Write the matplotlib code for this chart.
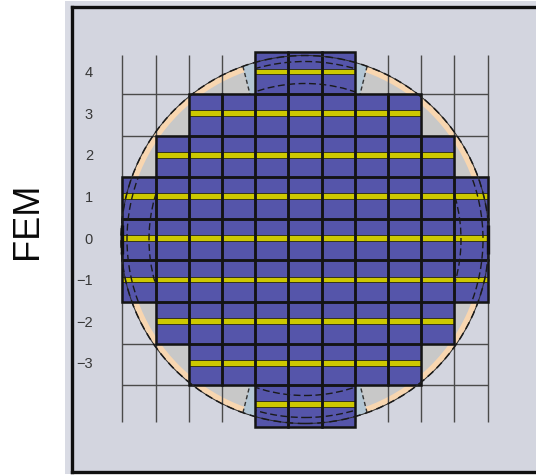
import numpy as np
import matplotlib
matplotlib.use("Agg")
import matplotlib.pyplot as plt
from matplotlib.patches import Rectangle, Ellipse, Polygon

# wafer map: die rows (top to bottom) and the first / last die column in each row
row_y = [4, 3, 2, 1, 0, -1, -2, -3, -4]
row_first = [-1, -3, -4, -5, -5, -5, -4, -3, -1]
row_last = [1, 3, 4, 5, 5, 5, 4, 3, 1]
tick_rows = [4, 3, 2, 1, 0, -1, -2, -3]
n_cols = 11
n_rows = 9

# pixel geometry of the map
W, H = 536, 476
CX, CY = 305.0, 239.5        # wafer centre (px)
DW, DH = 33.2, 41.6          # die pitch (px)
R_WAFER = 184.0
R_RING = 178.0
R_EXCL = [178.0, 156.0]

BG = "#d3d5df"
BLUE = "#5555aa"
YELLOW = "#cdc800"
GRAY = "#c8c8c8"
PEACH = "#f8d6b0"
WEDGE = "#b3c6d4"

fig = plt.figure(figsize=(W / 100, H / 100), dpi=100)
fig.patch.set_facecolor("white")

# light backing strip behind the frame
fig.patches.append(Rectangle((65 / W, 1 - 474 / H), 480 / W, 473 / H,
                             transform=fig.transFigure, fc="#d9dbe4", ec="none", zorder=-5))

left, right, top, bot = 71.5, 538.5, 6.5, 471.5
ax = fig.add_axes([left / W, 1 - bot / H, (right - left) / W, (bot - top) / H])
ax.set_zorder(1)
ax.set_facecolor(BG)
ax.set_xlim((left - CX) / DW, (right - CX) / DW)
ax.set_ylim((CY - bot) / DH, (CY - top) / DH)
ax.set_xticks([])
ax.set_yticks([])
for s in ax.spines.values():
    s.set_linewidth(2.4)
    s.set_color("#101010")
ax.spines["right"].set_visible(False)

rx = lambda r: r / DW
ry = lambda r: r / DH

# wafer disc: peach rim, gray inside
ax.add_patch(Ellipse((0, 0), 2 * rx(R_WAFER), 2 * ry(R_WAFER), fc=PEACH, ec="none", zorder=1))
ax.add_patch(Ellipse((0, 0), 2 * rx(R_RING), 2 * ry(R_RING), fc=GRAY, ec="none", zorder=1.1))

# grid of die positions
col_edges = np.arange(n_cols + 1) - n_cols / 2
row_edges = np.arange(1, n_rows) - n_rows / 2
ax.vlines(col_edges, (CY - 422) / DH, (CY - 55) / DH, color="#4a4a4a", lw=1.0, zorder=2)
ax.hlines(row_edges, col_edges[0], col_edges[-1], color="#4a4a4a", lw=1.0, zorder=2)


def yc(x):
    # y of the wafer edge above x (data units)
    return ry(R_WAFER) * np.sqrt(1 - (x / rx(R_WAFER)) ** 2)


# small wedges beside the top and bottom die rows
for sx in (-1, 1):
    for sy in (-1, 1):
        pts = [(sx * 1.5, sy * 3.5), (sx * 1.5, sy * yc(1.5)),
               (sx * 1.87, sy * yc(1.87)), (sx * 1.66, sy * 3.5)]
        ax.add_patch(Polygon(pts, closed=True, fc=WEDGE, ec="none", zorder=2.6))
        ax.plot([sx * 1.87, sx * 1.66], [sy * yc(1.87), sy * 3.5], color="#333",
                lw=1.0, ls=(0, (3, 2)), zorder=2.7)

# dies
for y, c0, c1 in zip(row_y, row_first, row_last):
    for c in range(c0, c1 + 1):
        ax.add_patch(Rectangle((c - 0.5, y - 0.5), 1, 1, fc=BLUE, ec="none", zorder=3))
        ax.add_patch(Rectangle((c - 0.5, y - 0.03), 1, 0.14, fc=YELLOW, ec="#34341a",
                               lw=0.7, zorder=3.1))
        ax.add_patch(Rectangle((c - 0.5, y - 0.5), 1, 1, fill=False, ec="#141414",
                               lw=1.8, zorder=3.2))

# wafer edge
ax.add_patch(Ellipse((0, 0), 2 * rx(R_WAFER), 2 * ry(R_WAFER), fill=False,
                     ec="#2a2a2a", lw=0.7, zorder=4))
ax.add_patch(Ellipse((0, 0), 2 * rx(R_WAFER), 2 * ry(R_WAFER), fill=False,
                     ec="#1a1a1a", lw=1.1, ls=(0, (5, 3)), zorder=4))

# edge-exclusion arcs, shown only on the edge dies
clip_boxes = [(-1.5, 3.5, 3, 1), (-1.5, -4.5, 3, 1), (-5.5, -1.5, 1, 3), (4.5, -1.5, 1, 3)]
for bx, by, bw, bh in clip_boxes:
    clip = Rectangle((bx, by), bw, bh, transform=ax.transData)
    for r in R_EXCL:
        e = Ellipse((0, 0), 2 * rx(r), 2 * ry(r), fill=False, ec="#1a1a1a",
                    lw=1.0, ls=(0, (5, 2.5)), zorder=4)
        ax.add_patch(e)
        e.set_clip_path(clip)

# flats on the left and right
ax.vlines([col_edges[0], col_edges[-1]], -0.36, 0.36, color="#101010", lw=2.4, zorder=4.5)

# row labels
for y in tick_rows:
    ax.text((93 - CX) / DW, y, str(y).replace("-", "\u2212"), ha="right", va="center",
            fontsize=10.5, color="#383838", family="Liberation Sans", zorder=5)

fig.text(27 / W, 1 - 221 / H, "FEM", rotation=90, ha="center", va="center",
         fontsize=26, color="#0a0a0a", family="Liberation Sans")

fig.savefig("out.png", dpi=100)
